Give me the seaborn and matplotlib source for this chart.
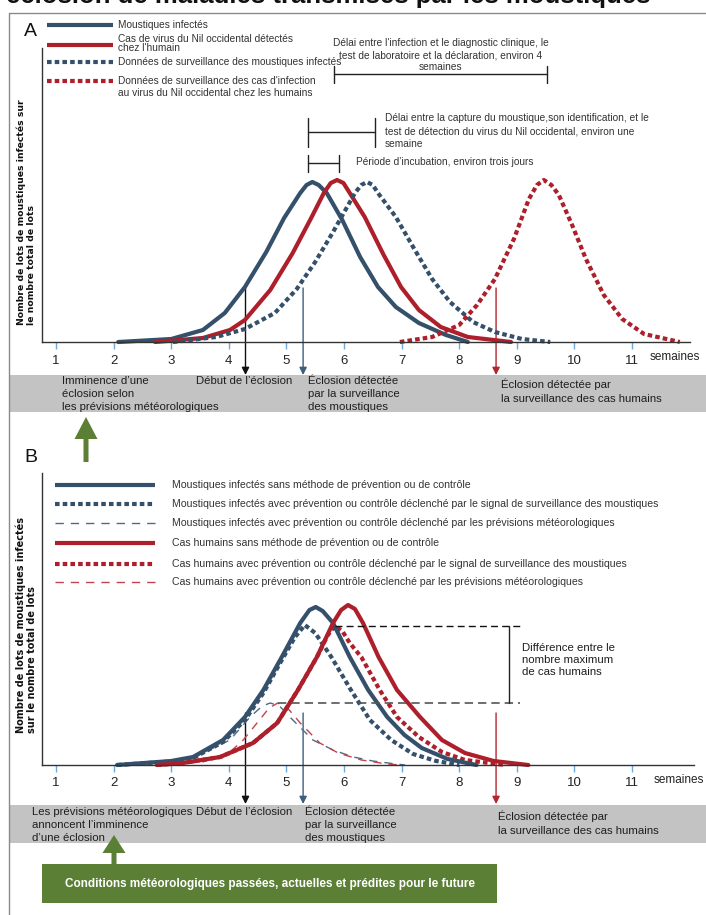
import matplotlib
matplotlib.use("Agg")
import matplotlib.pyplot as plt
import seaborn as sns
from matplotlib.patches import Rectangle, FancyArrow

# ---------------- data ----------------
weeks = list(range(1, 12))
week_labels = [str(w) for w in weeks]

# Panel A curves (x in weeks, y = relative index)
a_mosq_x = [2.08, 3.0, 3.55, 3.93, 4.28, 4.65, 4.96, 5.24, 5.35, 5.45, 5.56, 5.7, 5.97, 6.28, 6.59, 6.9, 7.3, 7.77, 8.15]
a_mosq_y = [0, 3, 12, 29, 55, 90, 124, 149, 157, 160, 157, 149, 122, 85, 55, 35, 19, 7, 0]
a_hum_x = [2.72, 3.55, 4.02, 4.28, 4.72, 5.11, 5.43, 5.65, 5.77, 5.88, 5.99, 6.1, 6.36, 6.68, 6.99, 7.3, 7.68, 8.15, 8.9]
a_hum_y = [0, 4, 12, 22, 52, 89, 124, 149, 159, 162, 159, 149, 125, 88, 55, 32, 15, 5, 0]
a_msurv_x = [3.03, 3.78, 4.28, 4.8, 5.18, 5.5, 5.81, 6.19, 6.3, 6.4, 6.5, 6.59, 6.9, 7.22, 7.53, 7.84, 8.24, 8.62, 9.09, 9.58]
a_msurv_y = [0, 5, 13, 29, 53, 80, 110, 149, 157, 160, 157, 149, 125, 93, 63, 40, 20, 10, 3, 0]
a_hsurv_x = [6.97, 7.53, 8.0, 8.31, 8.62, 8.95, 9.21, 9.35, 9.47, 9.6, 9.73, 9.96, 10.2, 10.51, 10.83, 11.21, 11.83]
a_hsurv_y = [0, 5, 17, 37, 63, 103, 143, 157, 162, 157, 147, 117, 83, 47, 23, 8, 0]

# Panel B curves
b_mosq_x = [2.06, 3.0, 3.38, 3.9, 4.28, 4.6, 4.92, 5.24, 5.4, 5.51, 5.63, 5.81, 6.1, 6.42, 6.75, 7.05, 7.35, 7.8, 8.3]
b_mosq_y = [0, 4, 8, 25, 48, 75, 108, 142, 155, 158, 154, 142, 108, 75, 48, 30, 17, 6, 0]
b_mosq_surv_x = [2.06, 3.0, 3.38, 3.9, 4.28, 4.6, 4.92, 5.15, 5.32, 5.5, 5.78, 6.12, 6.45, 6.82, 7.2, 7.6, 8.0]
b_mosq_surv_y = [0, 3.5, 7, 23, 45, 72, 105, 128, 140, 132, 108, 75, 45, 25, 11, 4, 0]
b_mosq_wx_x = [2.06, 3.0, 3.55, 4.02, 4.37, 4.58, 4.72, 4.88, 5.06, 5.46, 5.81, 6.16, 6.5, 6.9, 7.06]
b_mosq_wx_y = [0, 3, 12, 25, 48, 59, 62, 59, 48, 25, 15, 8, 4, 1, 0]
b_hum_x = [2.75, 3.2, 3.85, 4.42, 4.84, 5.2, 5.53, 5.81, 5.95, 6.07, 6.19, 6.33, 6.6, 6.92, 7.32, 7.7, 8.1, 8.6, 9.2]
b_hum_y = [0, 2, 8, 22, 42, 75, 108, 142, 155, 160, 156, 142, 108, 75, 48, 25, 12, 4, 0]
b_hum_surv_x = [2.75, 3.2, 3.85, 4.42, 4.84, 5.2, 5.53, 5.72, 5.84, 5.97, 6.1, 6.3, 6.62, 6.92, 7.3, 7.7, 8.1, 8.8]
b_hum_surv_y = [0, 2, 8, 22, 42, 75, 108, 130, 139, 134, 122, 108, 75, 48, 28, 13, 5, 0]
b_hum_wx_x = [2.75, 3.55, 4.02, 4.25, 4.49, 4.7, 4.85, 5.05, 5.24, 5.58, 5.9, 6.3, 6.75, 7.0]
b_hum_wx_y = [0, 3, 13, 25, 42, 57, 62, 55, 42, 22, 12, 5, 1, 0]

# events (weeks): outbreak start, mosquito surveillance detection, human surveillance detection
event_weeks = [4.29, 5.29, 8.64]
# brackets in panel A (weeks)
incub_span = (5.38, 5.91)
mosq_delay_span = (5.38, 6.54)
hum_delay_span = (5.83, 9.52)
diff_x_end = 9.06
diff_x_bar = 8.86

# ---------------- style ----------------
BLUE = "#34506a"
RED = "#ad1f2b"
BLUE_L = "#4d6b86"
RED_L = "#c2434b"
GREEN = "#5b7f35"
GRAY = "#c3c3c3"
DOT = (0, (1.1, 0.75))
DASH = (0, (6, 5))

sns.set_theme(style="white")
plt.rcParams["font.family"] = ["Liberation Sans Narrow", "Liberation Sans", "DejaVu Sans"]

W, H = 706, 915
fig = plt.figure(figsize=(W / 100, H / 100), dpi=100)

ov = fig.add_axes([0, 0, 1, 1], zorder=0)
ov.set_xlim(0, W)
ov.set_ylim(H, 0)
ov.axis("off")


def wk(p):
    return (p - 56) / 57.6 + 1


axA = fig.add_axes([42 / W, 1 - 342 / H, (690 - 42) / W, (342 - 48) / H], zorder=1)
axB = fig.add_axes([42 / W, 1 - 765 / H, (694 - 42) / W, (765 - 473) / H], zorder=1)
axA.set_xlim(wk(42), wk(690))
axA.set_ylim(0, 294)
axB.set_xlim(wk(42), wk(694))
axB.set_ylim(0, 292)

for ax in (axA, axB):
    ax.set_facecolor("none")
    for s in ("top", "right"):
        ax.spines[s].set_visible(False)
    for s in ("left", "bottom"):
        ax.spines[s].set_color("#333333")
        ax.spines[s].set_linewidth(1.0)
    ax.set_yticks([])
    ax.set_xticks(weeks)
    ax.set_xticklabels(week_labels)
    ax.tick_params(axis="x", direction="out", length=5, width=1, color="#6fa8dc",
                   pad=4, labelsize=9.5, labelcolor="#222222", bottom=True)
    ax.set_xlabel("")
    ax.set_ylabel("")


def curve(ax, xs, ys, color, lw, ls):
    sns.lineplot(x=xs, y=ys, ax=ax, color=color, linewidth=lw, linestyle=ls,
                 sort=False, estimator=None, clip_on=False, legend=False)


curve(axA, a_mosq_x, a_mosq_y, BLUE, 3.0, "-")
curve(axA, a_hum_x, a_hum_y, RED, 3.0, "-")
curve(axA, a_msurv_x, a_msurv_y, BLUE, 3.0, DOT)
curve(axA, a_hsurv_x, a_hsurv_y, RED, 3.0, DOT)

curve(axB, b_mosq_wx_x, b_mosq_wx_y, BLUE_L, 1.0, DASH)
curve(axB, b_hum_wx_x, b_hum_wx_y, RED_L, 1.0, DASH)
curve(axB, b_mosq_surv_x, b_mosq_surv_y, BLUE, 3.0, DOT)
curve(axB, b_hum_surv_x, b_hum_surv_y, RED, 3.0, DOT)
curve(axB, b_mosq_x, b_mosq_y, BLUE, 3.0, "-")
curve(axB, b_hum_x, b_hum_y, RED, 3.0, "-")


def px(ax, w):
    return ax.transData.transform((w, 0))[0]


# ---------- frame & title ----------
ov.plot([8.5, 8.5], [12.5, H], color="#8a8a8a", lw=1)
ov.plot([8.5, W], [12.5, 12.5], color="#8a8a8a", lw=1)
fig.text(6 / W, 1 - 3.5 / H, "éclosion de maladies transmises par les moustiques",
         fontsize=18.5, fontweight="bold", va="baseline", ha="left",
         family=["Liberation Sans", "DejaVu Sans"], color="#111111")

ov.text(30, 31, "A", fontsize=14, ha="center", va="center", color="#111111",
        family=["Liberation Sans", "DejaVu Sans"])
ov.text(31, 458, "B", fontsize=14, ha="center", va="center", color="#111111",
        family=["Liberation Sans", "DejaVu Sans"])

# y labels
fig.text(26 / W, 1 - 212 / H, "Nombre de lots de moustiques infectés sur\nle nombre total de lots",
         rotation=90, ha="center", va="center", multialignment="left", fontsize=6.7,
         fontweight="bold", family=["DejaVu Sans"], color="#111111", linespacing=1.1)
fig.text(26 / W, 1 - 625 / H, "Nombre de lots de moustiques infectés\nsur le nombre total de lots",
         rotation=90, ha="center", va="center", multialignment="left", fontsize=7.0,
         fontweight="bold", family=["DejaVu Sans"], color="#111111", linespacing=1.1)

# "semaines"
ov.text(650, 357, "semaines", fontsize=8.5, ha="left", va="center", color="#222222")
ov.text(654, 780, "semaines", fontsize=8.5, ha="left", va="center", color="#222222")

# ---------- legend A ----------
TXT = "#333333"
LFS = 7.3
legA = [(25, BLUE, "-", "Moustiques infectés", 25, 1.2),
        (45, RED, "-", "Cas de virus du Nil occidental détectés\nchez l'humain", 43.5, 0.95),
        (62, BLUE, DOT, "Données de surveillance des moustiques infectés", 62, 1.2),
        (81, RED, DOT, "Données de surveillance des cas d'infection\nau virus du Nil occidental chez les humains", 87, 1.3)]
for y, c, ls, t, ty, lsp in legA:
    ov.plot([47, 113], [y, y], color=c, lw=3, linestyle=ls, solid_capstyle="butt")
    ov.text(118, ty, t, fontsize=LFS, ha="left", va="center", color=TXT, linespacing=lsp)

# ---------- legend B ----------
legB = [(485, BLUE, "-", 3.0, "Moustiques infectés sans méthode de prévention ou de contrôle"),
        (504, BLUE, DOT, 3.0, "Moustiques infectés avec prévention ou contrôle déclenché par le signal de surveillance des moustiques"),
        (523, BLUE_L, DASH, 1.0, "Moustiques infectés avec prévention ou contrôle déclenché par les prévisions météorologiques"),
        (543, RED, "-", 3.0, "Cas humains sans méthode de prévention ou de contrôle"),
        (564, RED, DOT, 3.0, "Cas humains avec prévention ou contrôle déclenché par le signal de surveillance des moustiques"),
        (582, RED_L, DASH, 1.0, "Cas humains avec prévention ou contrôle déclenché par les prévisions météorologiques")]
for y, c, ls, lw, t in legB:
    ov.plot([55, 155], [y, y], color=c, lw=lw, linestyle=ls, solid_capstyle="butt")
    ov.text(172, y, t, fontsize=7.6, ha="left", va="center", color=TXT)

# ---------- brackets A ----------
BK = "#222222"


def bracket(x0, x1, y, c0, c1):
    ov.plot([x0, x1], [y, y], color=BK, lw=1)
    ov.plot([x0, x0], [c0, c1], color=BK, lw=1)
    ov.plot([x1, x1], [c0, c1], color=BK, lw=1)


h0, h1 = px(axA, hum_delay_span[0]), px(axA, hum_delay_span[1])
bracket(h0, h1, 74, 66, 83)
ov.text((h0 + h1) / 2, 55, "Délai entre l'infection et le diagnostic clinique, le\ntest de laboratoire et la déclaration, environ 4\nsemaines",
        fontsize=LFS, ha="center", va="center", multialignment="center", color=TXT, linespacing=1.3)
m0, m1 = px(axA, mosq_delay_span[0]), px(axA, mosq_delay_span[1])
bracket(m0, m1, 132, 118, 147)
ov.text(m1 + 10, 131, "Délai entre la capture du moustique,son identification, et le\ntest de détection du virus du Nil occidental, environ une\nsemaine",
        fontsize=LFS, ha="left", va="center", color=TXT, linespacing=1.35)
i0, i1 = px(axA, incub_span[0]), px(axA, incub_span[1])
bracket(i0, i1, 163, 155, 172)
ov.text(i1 + 17, 162, "Période d’incubation, environ trois jours", fontsize=LFS, ha="left",
        va="center", color=TXT)

# ---------- gray bands ----------
ov.add_patch(Rectangle((10, 375), W - 10, 37, color=GRAY, lw=0, zorder=0))
ov.add_patch(Rectangle((10, 805), W - 10, 38, color=GRAY, lw=0, zorder=0))

# ---------- event arrows ----------
ev_cols = ["#111111", "#3d5f7f", "#b3262f"]
for w, c in zip(event_weeks, ev_cols):
    xa = px(axA, w)
    ov.annotate("", xy=(xa, 375), xytext=(xa, 288),
                arrowprops=dict(arrowstyle="-|>", color=c, lw=1, mutation_scale=11, shrinkA=0, shrinkB=0))
    xb = px(axB, w)
    ov.annotate("", xy=(xb, 804), xytext=(xb, 713),
                arrowprops=dict(arrowstyle="-|>", color=c, lw=1, mutation_scale=11, shrinkA=0, shrinkB=0))

# ---------- band texts ----------
BFS = 8.2
BT = "#1e1e1e"
BLS = 1.38
ov.text(62, 376, "Imminence d’une\néclosion selon\nles prévisions météorologiques", fontsize=BFS, va="top", ha="left", color=BT, linespacing=BLS)
ov.text(196, 376, "Début de l’éclosion", fontsize=BFS, va="top", ha="left", color=BT)
ov.text(308, 376, "Éclosion détectée\npar la surveillance\ndes moustiques", fontsize=BFS, va="top", ha="left", color=BT, linespacing=BLS)
ov.text(501, 379, "Éclosion détectée par\nla surveillance des cas humains", fontsize=BFS, va="top", ha="left", color=BT, linespacing=BLS)

ov.text(32, 807, "Les prévisions météorologiques\nannoncent l’imminence\nd’une éclosion", fontsize=BFS, va="top", ha="left", color=BT, linespacing=BLS)
ov.text(196, 807, "Début de l’éclosion", fontsize=BFS, va="top", ha="left", color=BT)
ov.text(305, 807, "Éclosion détectée\npar la surveillance\ndes moustiques", fontsize=BFS, va="top", ha="left", color=BT, linespacing=BLS)
ov.text(498, 811, "Éclosion détectée par\nla surveillance des cas humains", fontsize=BFS, va="top", ha="left", color=BT, linespacing=BLS)

# ---------- green arrows & box ----------
ov.add_patch(FancyArrow(86, 462, 0, -45, width=5, head_width=23, head_length=22,
                        length_includes_head=True, color=GREEN, lw=0))
ov.add_patch(FancyArrow(114, 865, 0, -30, width=5, head_width=23, head_length=18,
                        length_includes_head=True, color=GREEN, lw=0))
ov.add_patch(Rectangle((42, 864), 455, 39, color=GREEN, lw=0))
ov.text(270, 884, "Conditions météorologiques passées, actuelles et prédites pour le future",
        fontsize=8.5, fontweight="bold", color="white", ha="center", va="center")

# ---------- difference annotation (panel B) ----------
i_hs = b_hum_surv_y.index(max(b_hum_surv_y))
i_hw = b_hum_wx_y.index(max(b_hum_wx_y))
y_hi, y_lo = b_hum_surv_y[i_hs], b_hum_wx_y[i_hw]
axB.plot([b_hum_surv_x[i_hs], diff_x_end], [y_hi, y_hi], color="#111111", lw=1,
         linestyle=(0, (5, 3)), clip_on=False)
axB.plot([b_hum_wx_x[i_hw], diff_x_end], [y_lo, y_lo], color="#555555", lw=1.2,
         linestyle=(0, (5, 3)), clip_on=False)
axB.plot([diff_x_bar, diff_x_bar], [y_lo, y_hi], color="#222222", lw=1, clip_on=False)
ov.text(522, 660, "Différence entre le\nnombre maximum\nde cas humains", fontsize=8.2,
        ha="left", va="center", color=BT, linespacing=1.3)

fig.savefig("out.png", dpi=100)
